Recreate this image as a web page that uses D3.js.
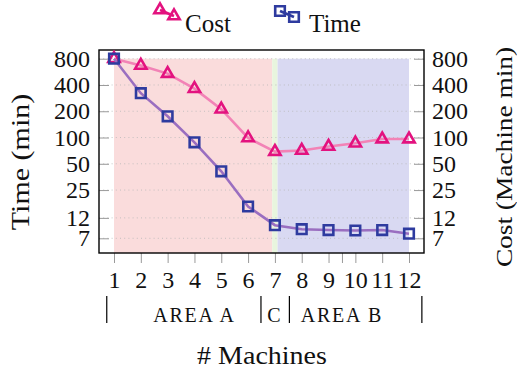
<!DOCTYPE html>
<html>
<head>
<meta charset="utf-8">
<script src="https://cdn.jsdelivr.net/npm/d3@7"></script>
<style>
  body { margin: 0; background: #fff; }
  svg text { font-family: "Liberation Serif", serif; fill: #111; }
</style>
</head>
<body>
<svg id="chart" width="517" height="373"></svg>
<script>
// Data
const machines = [1, 2, 3, 4, 5, 6, 7, 8, 9, 10, 11, 12];
const timeMin = [800, 322, 175, 88, 41, 16.2, 9.9, 8.9, 8.7, 8.6, 8.7, 7.9];
const costMachineMin = [800, 670, 540, 363, 211, 99, 69, 71, 79, 86, 96, 96];
const yTicks = [7, 12, 25, 50, 100, 200, 400, 800];
const xTicks = [1, 2, 3, 4, 5, 6, 7, 8, 9, 9.5, 10, 11, 12];

// shaded regions (machine units) and the group labels underneath
const areaStarts = [1, 6.9, 7.1];
const areaEnds = [6.9, 7.1, 12];
const areaTop = 800;
const groupBars = [0.73, 6.48, 7.54, 12.48];
const groupNames = ['AREA A', 'C', 'AREA B'];
const groupCenters = [4, 7, 9.5];

const COLORS = {
  costLine: '#f283b6',
  costMark: '#e3127f',
  timeLine: '#9a6ec0',
  timeMark: '#2e3b9f',
  areas: ['#fadcdc', '#e8f5de', '#d9d9f2'],
};

const svg = d3.select('#chart');
const frame = { left: 99, right: 424, top: 50, bottom: 253 };

const x = d3.scaleLinear().domain([1, 12]).range([114, 409]);
const y = d3.scaleLog().domain([4.75, 1007]).range([frame.bottom, frame.top]);

// Background areas
svg.append('g').selectAll('rect')
  .data(areaStarts.map((s, i) => ({ s, e: areaEnds[i], c: COLORS.areas[i] })))
  .enter().append('rect')
    .attr('x', (d) => x(d.s))
    .attr('width', (d) => x(d.e) - x(d.s))
    .attr('y', y(areaTop))
    .attr('height', frame.bottom - y(areaTop))
    .attr('fill', (d) => d.c);

// Dotted grid
svg.append('g').selectAll('line')
  .data(yTicks)
  .enter().append('line')
    .attr('x1', frame.left).attr('x2', frame.right)
    .attr('y1', (d) => y(d)).attr('y2', (d) => y(d))
    .attr('stroke', '#b8b8b8')
    .attr('stroke-width', 0.8)
    .attr('stroke-dasharray', '1,3.2');

// Axes
const fmt = (d) => String(d);
const styleAxis = (g) => {
  g.select('.domain').remove();
  g.selectAll('.tick line').attr('stroke', '#9a9a9a').attr('stroke-width', 1);
  g.selectAll('.tick text').style('font-size', '24px').attr('fill', '#111');
};

svg.append('g')
  .attr('transform', `translate(${frame.left},0)`)
  .call(d3.axisLeft(y).tickValues(yTicks).tickFormat(fmt).tickSize(-10).tickPadding(9))
  .call(styleAxis);

svg.append('g')
  .attr('transform', `translate(${frame.right},0)`)
  .call(d3.axisRight(y).tickValues(yTicks).tickFormat(fmt).tickSize(-10).tickPadding(8))
  .call(styleAxis);

svg.append('g')
  .attr('transform', `translate(0,${frame.bottom})`)
  .call(d3.axisBottom(x).tickValues(xTicks)
    .tickFormat((d) => (Number.isInteger(d) ? String(d) : ''))
    .tickSize(10).tickPadding(8))
  .call(styleAxis);

// Frame
svg.append('rect')
  .attr('x', frame.left).attr('y', frame.top)
  .attr('width', frame.right - frame.left)
  .attr('height', frame.bottom - frame.top)
  .attr('fill', 'none')
  .attr('stroke', '#000')
  .attr('stroke-width', 1.4);

// Series
const line = d3.line().x((d) => x(d[0])).y((d) => y(d[1]));
const triangle = d3.symbol(d3.symbolTriangle, 56);
const square = d3.symbol(d3.symbolSquare, 92);

function drawSeries(values, lineColor, markColor, shape) {
  const pts = machines.map((m, i) => [m, values[i]]);
  const g = svg.append('g');
  g.append('path')
    .datum(pts)
    .attr('d', line)
    .attr('fill', 'none')
    .attr('stroke', lineColor)
    .attr('stroke-width', 2.6);
  g.selectAll('path.mark')
    .data(pts)
    .enter().append('path')
      .attr('class', 'mark')
      .attr('transform', (d) => `translate(${x(d[0])},${y(d[1])})`)
      .attr('d', shape)
      .attr('fill', 'none')
      .attr('stroke', markColor)
      .attr('stroke-width', 2.6);
}

drawSeries(costMachineMin, COLORS.costLine, COLORS.costMark, triangle);
drawSeries(timeMin, COLORS.timeLine, COLORS.timeMark, square);

// Legend: two markers joined by a short line, then the name
function legendItem(x0, y0, x1, y1, lineColor, markColor, shape, name, tx) {
  const g = svg.append('g');
  g.append('line')
    .attr('x1', x0).attr('y1', y0).attr('x2', x1).attr('y2', y1)
    .attr('stroke', lineColor).attr('stroke-width', 2.6);
  [[x0, y0], [x1, y1]].forEach(([px, py]) => {
    g.append('path')
      .attr('transform', `translate(${px},${py})`)
      .attr('d', shape)
      .attr('fill', 'none')
      .attr('stroke', markColor)
      .attr('stroke-width', 2.6);
  });
  g.append('text')
    .attr('x', tx).attr('y', 32)
    .style('font-size', '25px')
    .text(name);
}

legendItem(160, 10, 174, 16, COLORS.costMark, COLORS.costMark, triangle, 'Cost', 185);
legendItem(280, 11, 294, 17, COLORS.timeMark, COLORS.timeMark, square, 'Time', 309);

// Axis titles (stretched a little along the text to match the wider original face)
function label(px, py, rot, sx, txt, size) {
  return svg.append('text')
    .attr('transform', `translate(${px},${py}) rotate(${rot}) scale(${sx},1)`)
    .attr('text-anchor', 'middle')
    .style('font-size', `${size}px`)
    .text(txt);
}

label(29, 162, -90, 1.2, 'Time (min)', 25);
label(512, 157, -90, 1.14, 'Cost (Machine min)', 24);
label(262, 364, 0, 1.12, '# Machines', 25);

// Group row under the x axis
const grp = svg.append('g');
grp.selectAll('line')
  .data(groupBars)
  .enter().append('line')
    .attr('x1', (d) => x(d)).attr('x2', (d) => x(d))
    .attr('y1', 296).attr('y2', 323)
    .attr('stroke', '#000').attr('stroke-width', 1.2);
grp.selectAll('text')
  .data(groupNames)
  .enter().append('text')
    .attr('x', (d, i) => x(groupCenters[i]))
    .attr('y', 321.5)
    .attr('text-anchor', 'middle')
    .style('font-size', '20px')
    .style('letter-spacing', '1.8px')
    .text((d) => d);
</script>
</body>
</html>
